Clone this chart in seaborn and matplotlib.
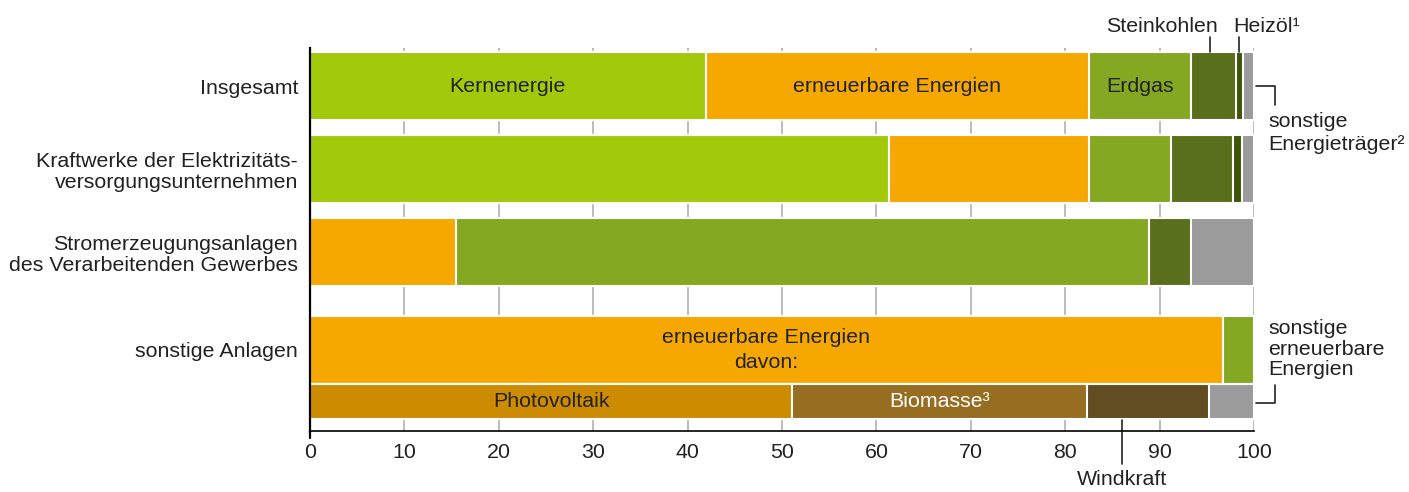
import pandas as pd
import matplotlib.pyplot as plt
import seaborn as sns

# Row labels (y axis), top to bottom
rows = ["Insgesamt",
        "Kraftwerke der Elektrizitäts-\nversorgungsunternehmen",
        "Stromerzeugungsanlagen\ndes Verarbeitenden Gewerbes",
        "sonstige Anlagen"]

# Shares in percent, left to right within each bar
segs_insgesamt = ["Kernenergie", "erneuerbare Energien", "Erdgas",
                  "Steinkohlen", "Heizöl", "sonstige Energieträger"]
vals_insgesamt = [41.9, 40.6, 10.8, 4.8, 0.7, 1.2]

segs_kraftwerke = ["Kernenergie", "erneuerbare Energien", "Erdgas",
                   "Steinkohlen", "Heizöl", "sonstige Energieträger"]
vals_kraftwerke = [61.3, 21.2, 8.7, 6.6, 0.9, 1.3]

segs_gewerbe = ["erneuerbare Energien", "Erdgas", "Steinkohlen", "sonstige Energieträger"]
vals_gewerbe = [15.5, 73.4, 4.4, 6.7]

segs_sonstige = ["erneuerbare Energien", "sonstige erneuerbare Energien"]
vals_sonstige = [96.7, 3.3]

# Breakdown of the renewables of "sonstige Anlagen" ("davon:")
segs_davon = ["Photovoltaik", "Biomasse", "Windkraft", "sonstige erneuerbare"]
vals_davon = [51.1, 31.2, 12.9, 4.8]

xticks = [0, 10, 20, 30, 40, 50, 60, 70, 80, 90, 100]

colors = {
    "Kernenergie": "#A3C90B",
    "erneuerbare Energien": "#F6A800",
    "Erdgas": "#85A823",
    "sonstige erneuerbare Energien": "#85A823",
    "Steinkohlen": "#5A6F1C",
    "Heizöl": "#3F5508",
    "sonstige Energieträger": "#9B9B9B",
    "Photovoltaik": "#CD8C00",
    "Biomasse": "#976D22",
    "Windkraft": "#624D23",
    "sonstige erneuerbare": "#9B9B9B",
}

# layout: bar centres / heights in row units
row_y = [0, 1, 2, 3.175]
davon_y = 3.80
bar_h = 0.82
davon_h = 0.42
ylim = (4.157, -0.458)
fs = 15.4

sns.set_style("white")
plt.rcParams["font.family"] = ["Liberation Sans", "DejaVu Sans"]
plt.rcParams["font.size"] = fs
txt = "#222222"

bars = [(segs_insgesamt, vals_insgesamt, row_y[0], bar_h),
        (segs_kraftwerke, vals_kraftwerke, row_y[1], bar_h),
        (segs_gewerbe, vals_gewerbe, row_y[2], bar_h),
        (segs_sonstige, vals_sonstige, row_y[3], bar_h),
        (segs_davon, vals_davon, davon_y, davon_h)]

recs = []
for segs, vals, y, h in bars:
    end = 0
    for s, v in zip(segs, vals):
        recs.append(dict(y=y, h=h, segment=s, start=end, end=end + v))
        end += v
df = pd.DataFrame(recs)

fig = plt.figure(figsize=(14.09, 4.92), dpi=100)
ax = fig.add_axes([0.22, 0.124, 0.67, 0.778])

# stacked bars: draw cumulative bars from the longest to the shortest
for (y, h), grp in df.groupby(["y", "h"], sort=False):
    for _, r in grp.sort_values("end", ascending=False).iterrows():
        sns.barplot(x=[r["end"]], y=[r["y"]], orient="y", native_scale=True,
                    width=r["h"], color=colors[r["segment"]], saturation=1,
                    edgecolor="white", linewidth=1.5, errorbar=None, ax=ax)

ax.set_xlim(0, 100)
ax.set_ylim(*ylim)
ax.set_xticks(xticks)
ax.set_yticks(row_y)
ax.set_yticklabels(rows, linespacing=1.13)
ax.set_xlabel("")
ax.set_ylabel("")
ax.tick_params(axis="x", length=0, pad=9, colors=txt, labelsize=fs)
ax.tick_params(axis="y", length=0, pad=8.5, colors=txt, labelsize=fs)
ax.grid(axis="x", color="#AAAAAA", linewidth=1.1)
ax.set_axisbelow(True)
for side in ["top", "right"]:
    ax.spines[side].set_visible(False)
ax.spines["left"].set_color("black")
ax.spines["left"].set_linewidth(1.6)
ax.spines["bottom"].set_color("black")
ax.spines["bottom"].set_linewidth(1.2)
ax.plot([0, 0], [ylim[0], ylim[0] + 0.085], color="black", lw=1.6, clip_on=False)


def seg(y, name):
    return df[(df["y"] == y) & (df["segment"] == name)].iloc[0]


def label(y, name, text, color=txt, **kw):
    r = seg(y, name)
    ax.text((r["start"] + r["end"]) / 2, y, text, ha="center", va="center",
            color=color, fontsize=fs, **kw)


label(row_y[0], "Kernenergie", "Kernenergie")
label(row_y[0], "erneuerbare Energien", "erneuerbare Energien")
label(row_y[0], "Erdgas", "Erdgas")
label(row_y[3], "erneuerbare Energien", "erneuerbare Energien\ndavon:", linespacing=1.4)
label(davon_y, "Photovoltaik", "Photovoltaik")
label(davon_y, "Biomasse", "Biomasse³", color="white")

line_kw = dict(color="#222222", lw=1.2, clip_on=False)
top0 = row_y[0] - bar_h / 2

# Steinkohlen / Heizöl leaders above the first bar
r = seg(row_y[0], "Steinkohlen")
xs = (r["start"] + r["end"]) / 2 - 0.4
ax.plot([xs, xs], [top0, top0 - 0.18], **line_kw)
ax.text(xs + 0.85, -0.65, "Steinkohlen", ha="right", va="baseline", color=txt, fontsize=fs)
r = seg(row_y[0], "Heizöl")
xh = (r["start"] + r["end"]) / 2
ax.plot([xh, xh], [top0, top0 - 0.18], **line_kw)
ax.text(xh - 0.7, -0.65, "Heizöl¹", ha="left", va="baseline", color=txt, fontsize=fs)

# sonstige Energieträger elbow
ax.plot([100.2, 102.2, 102.2], [row_y[0], row_y[0], row_y[0] + 0.23], **line_kw)
ax.text(101.5, 0.77, "sonstige\nEnergieträger²", ha="left", va="baseline",
        color=txt, fontsize=fs, linespacing=1.25)

# sonstige erneuerbare Energien elbow
ax.plot([100.2, 102.2, 102.2], [davon_y + 0.02, davon_y + 0.02, davon_y - 0.2], **line_kw)
ax.text(101.5, 3.48, "sonstige\nerneuerbare\nEnergien", ha="left", va="baseline",
        color=txt, fontsize=fs, linespacing=1.08)

# Windkraft leader below the axis
wind_x = 86.0
ax.plot([wind_x, wind_x], [davon_y + davon_h / 2 + 0.02, 4.56], **line_kw)
ax.text(wind_x, 4.81, "Windkraft", ha="center", va="baseline", color=txt, fontsize=fs)

fig.savefig("out.png", dpi=100)
